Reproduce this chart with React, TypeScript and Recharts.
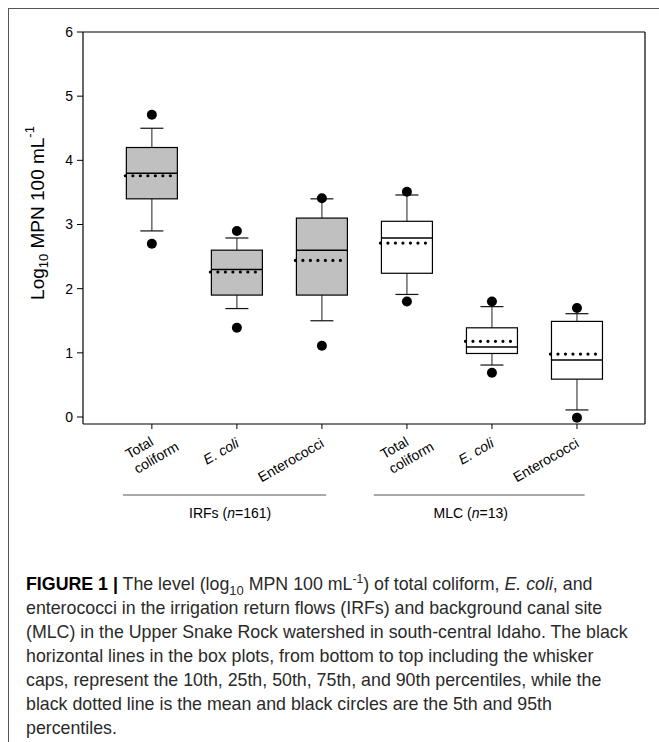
import React from 'react';
import { ComposedChart, Bar, XAxis, YAxis, ReferenceLine } from 'recharts';

// ---------- data ----------
const categories = ['Total\ncoliform', 'E. coli', 'Enterococci', 'Total\ncoliform', 'E. coli', 'Enterococci'];
const italicCategory = [false, true, false, false, true, false];
const sites = ['IRFs', 'IRFs', 'IRFs', 'MLC', 'MLC', 'MLC'];
const p5 = [2.7, 1.39, 1.11, 1.8, 0.69, -0.01];
const p10 = [2.9, 1.69, 1.5, 1.91, 0.81, 0.11];
const p25 = [3.4, 1.9, 1.9, 2.24, 0.99, 0.59];
const p50 = [3.8, 2.3, 2.6, 2.79, 1.09, 0.89];
const p75 = [4.2, 2.6, 3.1, 3.05, 1.39, 1.49];
const p90 = [4.5, 2.79, 3.4, 3.46, 1.72, 1.61];
const p95 = [4.71, 2.9, 3.41, 3.51, 1.8, 1.7];
const means = [3.76, 2.26, 2.44, 2.71, 1.18, 0.98];
const siteFill: Record<string, string> = { IRFs: '#c0c0c0', MLC: '#ffffff' };

const groupNames = ['IRFs', 'MLC'];
const groupN = [161, 13];
const groupCenter = [1, 4];
const groupLineFrom = [-0.34, 2.61];
const groupLineTo = [2.05, 5.09];
const groupLabelAt = [0.92, 3.75];

const xTicks = [0, 1, 2, 3, 4, 5];
const yTicks = [0, 1, 2, 3, 4, 5, 6];
const X_DOMAIN: [number, number] = [-0.81, 5.8];
const Y_DOMAIN: [number, number] = [-0.109, 6];

const data = categories.map((c, i) => ({
  pos: i,
  cat: c,
  site: sites[i],
  p5: p5[i],
  p10: p10[i],
  p25: p25[i],
  p50: p50[i],
  p75: p75[i],
  p90: p90[i],
  p95: p95[i],
  mean: means[i],
}));

// ---------- layout ----------
const FONT = "'Liberation Sans', Arial, Helvetica, sans-serif";
const CHART_W = 650;
const CHART_H = 530;
const MARGIN = { top: 23, right: 14, bottom: 0, left: 0 };
const Y_AXIS_W = 74;
const X_AXIS_H = 115;
const PLOT_W = CHART_W - MARGIN.left - MARGIN.right - Y_AXIS_W;
const STEP = PLOT_W / (X_DOMAIN[1] - X_DOMAIN[0]);
const TICK_SIZE = 5;

let measureCtx: CanvasRenderingContext2D | null = null;
function textWidth(s: string, font: string): number {
  if (!measureCtx) measureCtx = document.createElement('canvas').getContext('2d');
  if (!measureCtx) return s.length * 7;
  measureCtx.font = font;
  return measureCtx.measureText(s).width;
}

const BoxShape = (props: any) => {
  const { x, y, width, height, payload } = props;
  if (payload == null) return null;
  const lo = payload.p5;
  const hi = payload.p95;
  const top = Math.min(y, y + height);
  const h = Math.abs(height);
  const k = h / (hi - lo);
  const Y = (v: number) => top + (hi - v) * k;
  const cx = x + width / 2;
  const capHalf = 11.5;
  const fill = siteFill[payload.site];
  return (
    <g>
      {/* whiskers */}
      <line x1={cx} x2={cx} y1={Y(payload.p90)} y2={Y(payload.p75)} stroke="#444" strokeWidth={1.2} />
      <line x1={cx} x2={cx} y1={Y(payload.p25)} y2={Y(payload.p10)} stroke="#444" strokeWidth={1.2} />
      <line x1={cx - capHalf} x2={cx + capHalf} y1={Y(payload.p90)} y2={Y(payload.p90)} stroke="#111" strokeWidth={1.2} />
      <line x1={cx - capHalf} x2={cx + capHalf} y1={Y(payload.p10)} y2={Y(payload.p10)} stroke="#111" strokeWidth={1.2} />
      {/* box */}
      <rect x={x} y={Y(payload.p75)} width={width} height={Y(payload.p25) - Y(payload.p75)} fill={fill} stroke="#000" strokeWidth={1.2} />
      {/* median */}
      <line x1={x} x2={x + width} y1={Y(payload.p50)} y2={Y(payload.p50)} stroke="#000" strokeWidth={1.5} />
      {/* mean (dotted) */}
      <line
        x1={x - 1}
        x2={x + width - 6}
        y1={Y(payload.mean)}
        y2={Y(payload.mean)}
        stroke="#000"
        strokeWidth={3.2}
        strokeLinecap="round"
        strokeDasharray="0 7.5"
      />
      {/* 5th & 95th */}
      <circle cx={cx} cy={Y(payload.p95)} r={5} fill="#000" />
      <circle cx={cx} cy={Y(payload.p5)} r={5} fill="#000" />
    </g>
  );
};

const XTick = (props: any) => {
  const { x, y, payload } = props;
  const i = Math.round(payload.value);
  if (i < 0 || i >= categories.length) return null;
  const axisY = y - TICK_SIZE;
  const lines = categories[i].split('\n');
  const italic = italicCategory[i];
  const fontStr = `${italic ? 'italic ' : ''}14px ${FONT}`;
  let label: React.ReactNode;
  if (lines.length > 1) {
    const w = Math.max(...lines.map((l) => textWidth(l, fontStr)));
    label = (
      <g transform={`translate(${x}, ${axisY + 26}) rotate(-30)`}>
        {lines.map((l, j) => (
          <text
            key={j}
            x={-w / 2}
            y={-3.5 + j * 17}
            textAnchor="start"
            fontSize={14}
            fontFamily={FONT}
            fontStyle={italic ? 'italic' : 'normal'}
            fill="#000"
          >
            {l}
          </text>
        ))}
      </g>
    );
  } else {
    label = (
      <g transform={`translate(${x + 3}, ${axisY + 22}) rotate(-30)`}>
        <text x={0} y={0} textAnchor="end" fontSize={14} fontFamily={FONT} fontStyle={italic ? 'italic' : 'normal'} fill="#000">
          {lines[0]}
        </text>
      </g>
    );
  }
  const g = groupCenter.indexOf(i);
  let group: React.ReactNode = null;
  if (g >= 0) {
    const c = groupCenter[g];
    group = (
      <g>
        <line
          x1={x + (groupLineFrom[g] - c) * STEP}
          x2={x + (groupLineTo[g] - c) * STEP}
          y1={axisY + 71}
          y2={axisY + 71}
          stroke="#555"
          strokeWidth={1}
        />
        <text
          x={x + (groupLabelAt[g] - c) * STEP}
          y={axisY + 94}
          textAnchor="middle"
          fontSize={14}
          fontFamily={FONT}
          fill="#000"
        >
          {groupNames[g]} (<tspan fontStyle="italic">n</tspan>={groupN[g]})
        </text>
      </g>
    );
  }
  return (
    <g>
      {label}
      {group}
    </g>
  );
};

const YLabel = (props: any) => {
  const vb = props.viewBox || { x: 0, y: 23, width: Y_AXIS_W, height: 392 };
  const cx = vb.x + 30;
  const cy = vb.y + vb.height / 2 - 15;
  return (
    <text
      x={cx}
      y={cy}
      transform={`rotate(-90, ${cx}, ${cy})`}
      textAnchor="middle"
      fontSize={19}
      fontFamily={FONT}
      fill="#000"
      dominantBaseline="middle"
    >
      Log
      <tspan fontSize={13} dy={6}>10</tspan>
      <tspan dy={-6}> MPN 100 mL</tspan>
      <tspan fontSize={13} dy={-8}>-1</tspan>
    </text>
  );
};

const captionLines: React.ReactNode[] = [
  <>
    <b style={{ color: '#000', fontWeight: 700 }}>FIGURE 1 |</b> The level (log<sub style={{ fontSize: 13, lineHeight: 0 }}>10</sub> MPN 100 mL
    <sup style={{ fontSize: 12, lineHeight: 0 }}>-1</sup>) of total coliform, <i>E. coli</i>, and
  </>,
  <>enterococci in the irrigation return flows (IRFs) and background canal site</>,
  <>(MLC) in the Upper Snake Rock watershed in south-central Idaho. The black</>,
  <>horizontal lines in the box plots, from bottom to top including the whisker</>,
  <>caps, represent the 10th, 25th, 50th, 75th, and 90th percentiles, while the</>,
  <>black dotted line is the mean and black circles are the 5th and 95th</>,
  <>percentiles.</>,
];

export default function App() {
  return (
    <div
      style={{
        position: 'absolute',
        left: 8,
        top: 8,
        width: 651,
        height: 734,
        borderTop: '1px solid #555',
        borderLeft: '1px solid #555',
        boxSizing: 'border-box',
        overflow: 'hidden',
        background: '#fff',
      }}
    >
      <div style={{ position: 'absolute', left: 0, top: 0 }}>
        <ComposedChart width={CHART_W} height={CHART_H} data={data} margin={MARGIN}>
          <XAxis
            dataKey="pos"
            type="number"
            domain={X_DOMAIN}
            ticks={xTicks}
            interval={0}
            allowDataOverflow
            height={X_AXIS_H}
            tickSize={TICK_SIZE}
            tickMargin={0}
            tick={<XTick />}
            axisLine={{ stroke: '#000', strokeWidth: 1.2 }}
            tickLine={{ stroke: '#000' }}
          />
          <YAxis
            type="number"
            domain={Y_DOMAIN}
            ticks={yTicks}
            interval={0}
            allowDataOverflow
            width={Y_AXIS_W}
            tickSize={6}
            tickMargin={4}
            tick={{ fontSize: 14, fill: '#000', fontFamily: FONT }}
            axisLine={{ stroke: '#000', strokeWidth: 1.2 }}
            tickLine={{ stroke: '#000' }}
            label={{ content: <YLabel /> }}
          />
          <ReferenceLine y={Y_DOMAIN[1]} stroke="#000" strokeWidth={1.2} />
          <ReferenceLine x={X_DOMAIN[1]} stroke="#000" strokeWidth={1.2} />
          <Bar
            dataKey={(d: any) => [d.p5, d.p95]}
            barSize={51}
            shape={<BoxShape />}
            isAnimationActive={false}
          />
        </ComposedChart>
      </div>
      <div
        style={{
          position: 'absolute',
          left: 17,
          top: 563,
          fontFamily: FONT,
          fontSize: 17.8,
          lineHeight: '24px',
          color: '#2a2a2a',
          whiteSpace: 'nowrap',
        }}
      >
        {captionLines.map((l, i) => (
          <div key={i}>{l}</div>
        ))}
      </div>
    </div>
  );
}
